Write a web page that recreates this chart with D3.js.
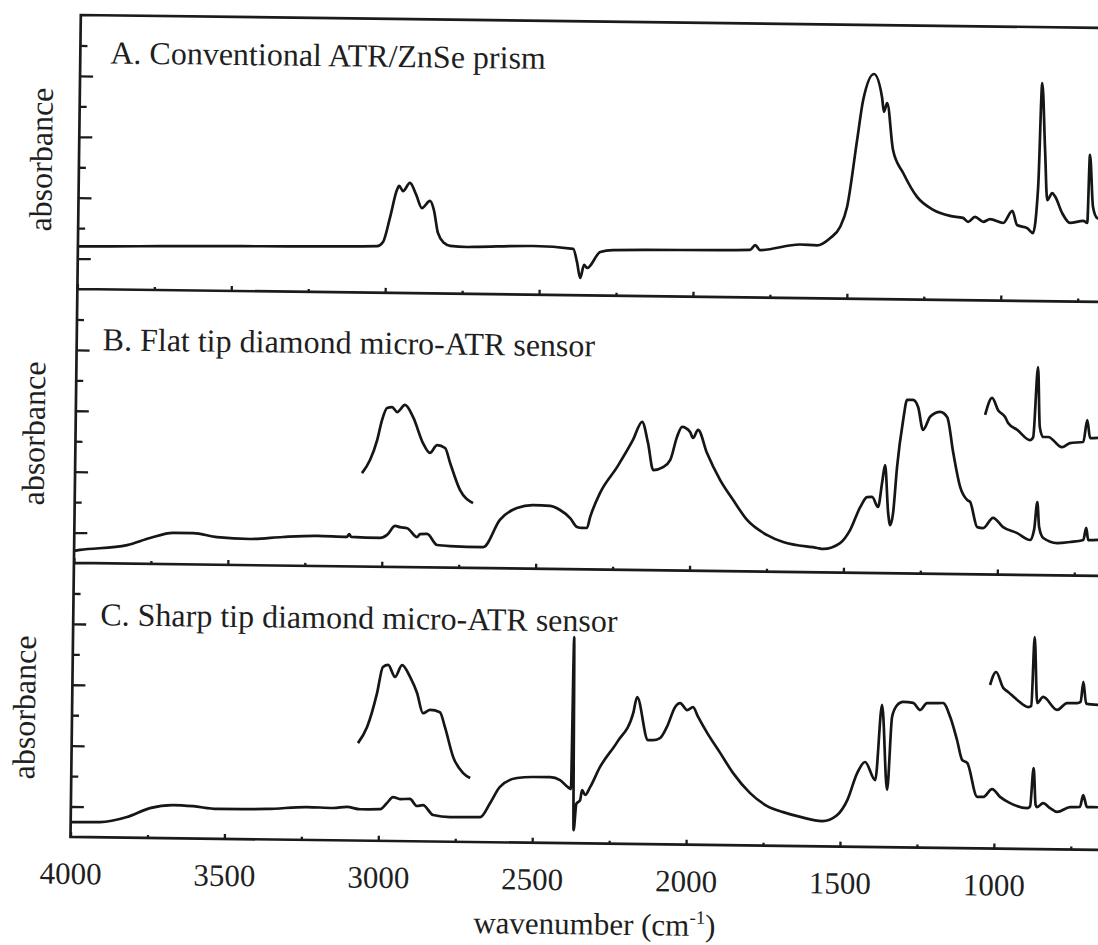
<!DOCTYPE html>
<meta charset="utf-8">
<head>
	<script src="https://d3js.org/d3.v7.min.js"></script>
	<style>
		body {
			margin: 0;
			background: #fff;
		}
		#chart svg {
			display: block;
		}
		#chart text {
			font-family: "Liberation Serif", "Times New Roman", serif;
			fill: #1f1f1f;
		}
		.frame {
			fill: none;
			stroke: #1b1b1b;
			stroke-width: 2.7;
		}
		.spec {
			fill: none;
			stroke: #161616;
			stroke-width: 2.7;
			stroke-linejoin: round;
		}
		.axis .domain {
			display: none;
		}
		.axis .tick line {
			stroke: #1b1b1b;
			stroke-width: 2.3;
		}
	</style>
</head>

<body>
	<div id="chart"></div>
</body>

<script type="text/javascript">

	// tick values
	var wavenumberTicks = [4000, 3500, 3000, 2500, 2000, 1500, 1000];
	var wavenumberMinor = [3750, 3250, 2750, 2250, 1750, 1250, 750];
	var absMajor = [0, 0.2, 0.4, 0.6];
	var absMinor = [0.1, 0.3, 0.5, 0.7];

	var panelTitles = [
		"A. Conventional ATR/ZnSe prism",
		"B. Flat tip diamond micro-ATR sensor",
		"C. Sharp tip diamond micro-ATR sensor"
	];

	// [wavenumber, absorbance]
	var spectrumA = [[4000,0.040],[3800,0.043],[3603,0.046],[3400,0.048],[3200,0.050],[3028,0.053],[3009,0.067],[2987,0.149],[2966,0.238],[2959,0.252],[2946,0.235],[2924,0.262],[2903,0.223],[2884,0.180],[2858,0.204],[2845,0.174],[2831,0.099],[2810,0.066],[2791,0.057],[2736,0.054],[2700,0.055],[2521,0.060],[2391,0.052],[2378,0.009],[2367,-0.043],[2355,0.000],[2345,-0.010],[2303,0.043],[2262,0.050],[1816,0.056],[1800,0.072],[1784,0.056],[1654,0.076],[1599,0.074],[1557,0.098],[1525,0.135],[1503,0.201],[1473,0.422],[1455,0.553],[1421,0.639],[1394,0.564],[1387,0.515],[1377,0.544],[1356,0.390],[1322,0.315],[1276,0.237],[1223,0.195],[1168,0.176],[1126,0.170],[1109,0.157],[1087,0.174],[1060,0.158],[1038,0.167],[995,0.155],[966,0.195],[950,0.149],[917,0.139],[898,0.123],[883,0.275],[874,0.616],[862,0.396],[853,0.232],[837,0.255],[827,0.243],[804,0.190],[778,0.158],[735,0.165],[722,0.159],[716,0.382],[704,0.211],[690,0.175],[670,0.170]];

	var spectrumB = [[4000,-0.060],[3981,-0.057],[3828,-0.039],[3754,-0.015],[3679,0.003],[3614,0.003],[3536,-0.009],[3429,-0.014],[3322,-0.006],[3211,-0.001],[3114,-0.003],[3107,0.006],[3100,-0.003],[3006,-0.005],[2984,0.005],[2958,0.035],[2942,0.031],[2919,0.028],[2886,-0.001],[2877,0.009],[2854,0.010],[2821,-0.026],[2779,-0.029],[2671,-0.031],[2618,0.059],[2563,0.099],[2511,0.109],[2455,0.107],[2423,0.094],[2390,0.068],[2367,0.039],[2351,0.036],[2335,0.036],[2325,0.072],[2294,0.151],[2239,0.238],[2189,0.327],[2160,0.387],[2140,0.318],[2122,0.229],[2090,0.239],[2067,0.263],[2046,0.339],[2030,0.372],[2004,0.356],[1994,0.336],[1978,0.363],[1948,0.287],[1904,0.199],[1861,0.134],[1815,0.069],[1749,0.020],[1697,-0.002],[1586,-0.020],[1567,-0.023],[1512,-0.003],[1480,0.040],[1448,0.116],[1426,0.149],[1410,0.150],[1390,0.117],[1378,0.196],[1369,0.255],[1357,0.098],[1350,0.058],[1341,0.098],[1330,0.249],[1312,0.404],[1300,0.470],[1281,0.470],[1264,0.447],[1247,0.372],[1225,0.415],[1208,0.428],[1192,0.432],[1169,0.415],[1148,0.298],[1124,0.186],[1101,0.144],[1091,0.137],[1067,0.055],[1048,0.052],[1016,0.086],[983,0.056],[937,0.037],[895,0.015],[882,0.050],[873,0.140],[866,0.058],[852,0.022],[807,0.006],[765,0.010],[722,0.017],[713,0.057],[706,0.017],[674,0.018]];
	var insetB_CH = [[3068,0.207],[3042,0.251],[3020,0.316],[3005,0.382],[2989,0.422],[2973,0.425],[2956,0.409],[2931,0.433],[2904,0.393],[2871,0.308],[2848,0.276],[2825,0.302],[2799,0.293],[2782,0.244],[2749,0.156],[2706,0.113]];
	var insetB_FP = [[1046,0.424],[1024,0.480],[1004,0.440],[981,0.418],[971,0.398],[941,0.376],[899,0.343],[889,0.353],[876,0.583],[868,0.387],[857,0.354],[840,0.354],[795,0.321],[769,0.335],[726,0.339],[714,0.411],[704,0.352],[678,0.353]];

	var spectrumC = [[4000,-0.051],[3905,-0.050],[3817,-0.032],[3743,-0.002],[3668,0.009],[3603,0.006],[3525,-0.002],[3363,0.000],[3233,0.008],[3148,0.006],[3103,0.010],[3060,0.003],[2995,0.004],[2973,0.025],[2954,0.044],[2931,0.038],[2899,0.039],[2876,0.016],[2856,0.019],[2823,-0.013],[2768,-0.019],[2670,-0.018],[2638,0.029],[2607,0.082],[2552,0.112],[2500,0.116],[2444,0.116],[2412,0.107],[2386,0.084],[2376,0.078],[2372,0.577],[2366,-0.057],[2358,0.030],[2346,0.042],[2340,0.075],[2330,0.059],[2314,0.085],[2283,0.151],[2228,0.234],[2177,0.330],[2165,0.383],[2128,0.242],[2112,0.242],[2089,0.249],[2067,0.286],[2041,0.352],[2025,0.365],[2002,0.342],[1983,0.352],[1966,0.320],[1936,0.268],[1893,0.203],[1850,0.137],[1794,0.072],[1738,0.030],[1686,0.011],[1630,-0.004],[1559,-0.017],[1511,0.003],[1478,0.053],[1447,0.142],[1422,0.179],[1388,0.120],[1369,0.367],[1349,0.088],[1336,0.328],[1320,0.367],[1301,0.378],[1268,0.375],[1245,0.352],[1223,0.375],[1203,0.375],[1171,0.376],[1147,0.330],[1124,0.255],[1106,0.189],[1090,0.180],[1056,0.069],[1037,0.069],[1008,0.095],[982,0.070],[949,0.050],[893,0.034],[884,0.040],[874,0.166],[866,0.045],[861,0.038],[842,0.051],[819,0.035],[796,0.023],[754,0.039],[722,0.040],[712,0.079],[699,0.040],[663,0.040]];
	var insetC_CH = [[3070,0.220],[3041,0.273],[3010,0.385],[2992,0.471],[2975,0.478],[2952,0.439],[2930,0.478],[2903,0.439],[2880,0.387],[2860,0.321],[2837,0.332],[2805,0.325],[2788,0.276],[2760,0.178],[2727,0.126],[2704,0.110]];
	var insetC_FP = [[1019,0.437],[1000,0.480],[976,0.428],[960,0.415],[930,0.389],[894,0.366],[884,0.370],[876,0.596],[865,0.380],[846,0.400],[800,0.358],[768,0.381],[735,0.381],[724,0.385],[716,0.451],[706,0.380],[666,0.376]];

	var panels = [
		{ title: panelTitles[0], traces: [spectrumA], titleX: 111, titleDy: 48, labelX: 54 },
		{ title: panelTitles[1], traces: [spectrumB, insetB_CH, insetB_FP], titleX: 107, titleDy: 61, labelX: 50 },
		{ title: panelTitles[2], traces: [spectrumC, insetC_CH, insetC_FP], titleX: 108, titleDy: 62, labelX: 44 }
	];

	var width = 1098, height = 945;
	var left = 81, right = 1110, top0 = 14, panelH = 274;
	var serif = '"Liberation Serif", "Times New Roman", serif';

	var svg = d3.select("#chart").append("svg")
		.attr("width", width)
		.attr("height", height);

	// the scan is slightly tilted
	var g = svg.append("g")
		.attr("transform", "rotate(0.72)");

	var x = d3.scaleLinear()
		.domain([4000, 657])
		.range([left, right]);

	var line = d3.line()
		.curve(d3.curveMonotoneX)
		.x(function(d) { return x(d[0]); });

	panels.forEach(function(p, i) {
		var top = top0 + i * panelH;
		var y = d3.scaleLinear()
			.domain([-0.1, 0.8])
			.range([top + panelH, top]);

		g.append("clipPath")
			.attr("id", "clip" + i)
			.append("rect")
			.attr("x", left)
			.attr("y", top)
			.attr("width", right - left)
			.attr("height", panelH);

		line.y(function(d) { return y(d[1]); });

		var traces = p.traces.map(function(t) {
			return t.slice().sort(function(a, b) { return a[0] - b[0]; });
		});

		g.append("g")
			.attr("clip-path", "url(#clip" + i + ")")
			.selectAll("path")
			.data(traces)
			.enter().append("path")
			.attr("class", "spec")
			.attr("d", line);

		// left ticks, pointing in
		g.append("g")
			.attr("class", "axis")
			.attr("transform", "translate(" + left + ",0)")
			.call(d3.axisRight(y).tickValues(absMajor).tickSize(13).tickFormat(""));
		g.append("g")
			.attr("class", "axis")
			.attr("transform", "translate(" + left + ",0)")
			.call(d3.axisRight(y).tickValues(absMinor).tickSize(7).tickFormat(""));

		// bottom ticks, pointing up
		g.append("g")
			.attr("class", "axis")
			.attr("transform", "translate(0," + (top + panelH) + ")")
			.call(d3.axisTop(x).tickValues(wavenumberTicks).tickSize(5).tickFormat(""));
		g.append("g")
			.attr("class", "axis")
			.attr("transform", "translate(0," + (top + panelH) + ")")
			.call(d3.axisTop(x).tickValues(wavenumberMinor).tickSize(3).tickFormat(""));

		g.append("text")
			.attr("x", p.titleX)
			.attr("y", top + p.titleDy)
			.style("font-family", serif)
			.style("font-size", "32px")
			.text(p.title);

		g.append("text")
			.attr("transform", "translate(" + p.labelX + "," + (top + panelH / 2 + 8) + ")rotate(-90)")
			.style("text-anchor", "middle")
			.style("font-family", serif)
			.style("font-size", "32px")
			.text("absorbance");
	});

	// frame
	var bottom = top0 + 3 * panelH;
	var frame = d3.path();
	frame.moveTo(right, top0); frame.lineTo(left, top0); frame.lineTo(left, bottom); frame.lineTo(right, bottom);
	[1, 2].forEach(function(k) {
		frame.moveTo(left, top0 + k * panelH);
		frame.lineTo(right, top0 + k * panelH);
	});
	g.append("path")
		.attr("class", "frame")
		.attr("d", frame.toString());

	// tick labels under the last panel
	var xaxis = g.append("g")
		.attr("class", "axis")
		.attr("transform", "translate(0," + bottom + ")")
		.call(d3.axisBottom(x).tickValues(wavenumberTicks).tickSize(0).tickPadding(25).tickFormat(d3.format("d")));

	xaxis.selectAll("text")
		.style("font-family", serif)
		.style("font-size", "31px");

	var title = g.append("text")
		.attr("x", 606)
		.attr("y", bottom + 91)
		.style("text-anchor", "middle")
		.style("font-family", serif)
		.style("font-size", "31px");
	title.append("tspan").text("wavenumber (cm");
	title.append("tspan").attr("dy", -12).style("font-size", "19px").text("-1");
	title.append("tspan").attr("dy", 12).text(")");

</script>
